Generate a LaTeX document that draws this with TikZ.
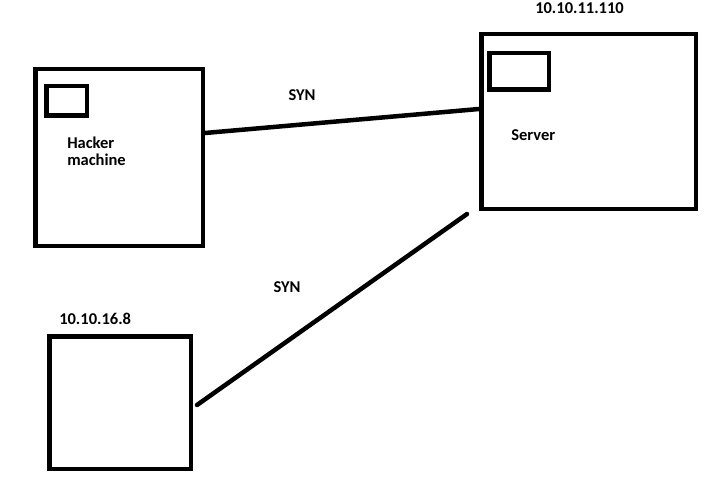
\documentclass[tikz,border=0pt]{standalone}
\usepackage{fontspec}
\setmainfont{Carlito}
\usepackage{tikz}
\usetikzlibrary{positioning}

\begin{document}
\begin{tikzpicture}[
            x = 1pt, y = -1pt, % pixel grid, y pointing down
            line width = 4.5pt, % line style
            font = \fontsize{16.5}{17}\selectfont\bfseries
        ]
        \tikzstyle{host}=[
            draw = black,
            fill = white,
            inner sep = 0pt
        ]
        \tikzstyle{screen}=[
            draw = black,
            inner sep = 0pt
        ]
        \tikzstyle{label}=[
            inner sep = 0pt,
            align = left
        ]
        \useasboundingbox (0,0) rectangle (721,487);

        \node[host, minimum width = 167.5pt, minimum height = 176.5pt] (H) at (119,157.5) {};
        \node[host, minimum width = 214.5pt, minimum height = 174.5pt] (S) at (588.5,121.5) {};
        \node[host, minimum width = 141.5pt, minimum height = 132.5pt] (C) at (120,402.5) {};

        \node[screen, minimum width = 40.5pt, minimum height = 29.5pt] (Hs) at (66.5,101) {};
        \node[screen, minimum width = 59.5pt, minimum height = 36.5pt] (Ss) at (519,71.5) {};

        \node[label, anchor = north west] (Hl) at (65,135) {Hacker\\machine};
        \node[label, anchor = base west] (Sl) at (509,140) {Server};
        \node[label, anchor = base west] (Sip) at (533,14) {10.10.11.110};
        \node[label, anchor = base west] (Cip) at (57,324) {10.10.16.8};

        \coordinate (a) at (H.east |- 0,133);
        \coordinate (b) at (S.west |- 0,109);
        \coordinate (c) at (197,405);
        \coordinate (d) at (467,214);

        \path[draw] (a) -- node[label, pos = 0.354, above = 22pt] {SYN} (b);
        \path[draw, line cap = round] (c) -- (d);
        \node[label] (syn) at (287,287) {SYN};
    \end{tikzpicture}
\end{document}
